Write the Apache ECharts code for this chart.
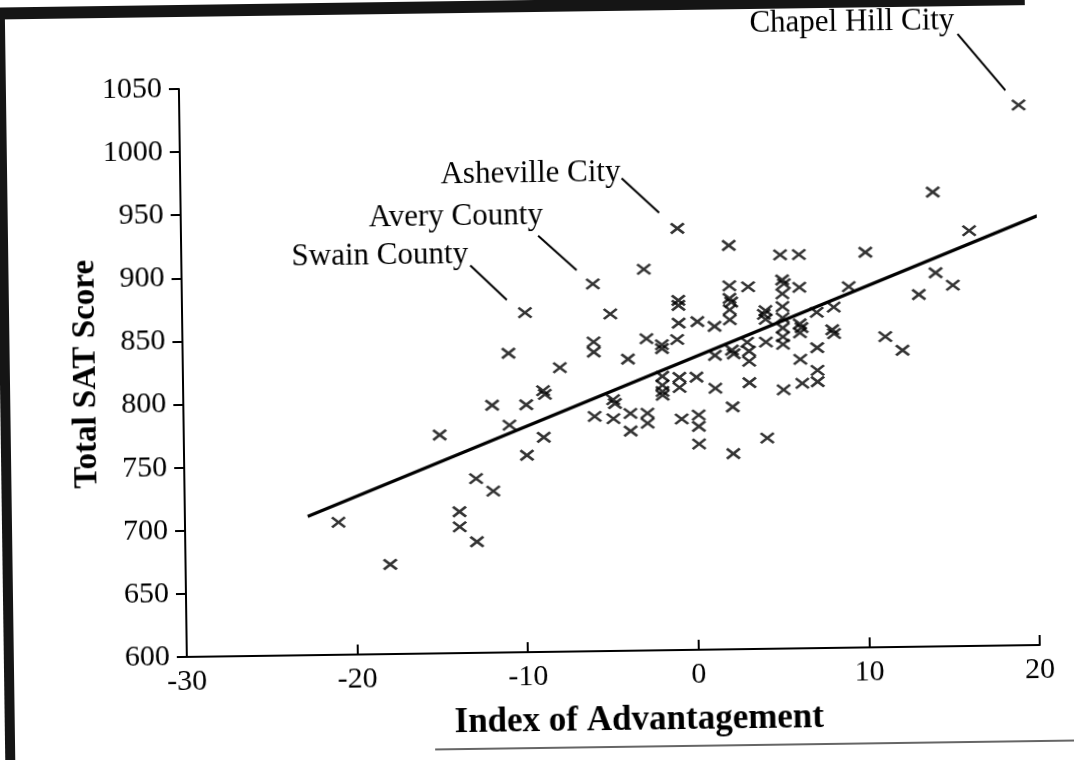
<!DOCTYPE html>
<html>
<head>
<meta charset="utf-8">
<script src="https://cdn.jsdelivr.net/npm/echarts@6/dist/echarts.min.js"></script>
<style>
html, body { margin: 0; padding: 0; background: #fff; overflow: hidden; }
#chart { width: 1074px; height: 760px; transform: rotate(-0.8deg); }
</style>
</head>
<body>
<div id="chart"></div>
<script>
// school districts: index of advantagement vs total SAT score
var advIndex = [
  -21.0, -18.0, -15.0, -13.9, -13.9, -12.9, -12.9, -11.9, -11.9, -10.9, -10.9,
  -9.9, -9.9, -8.9, -8.8, -8.9, -7.9, -5.9, -5.9, -5.9, -4.9, -4.8, -4.7, -4.8,
  -3.9, -3.8, -3.8, -2.9, -2.8, -2.8, -2.8, -1.9, -1.9, -1.9, -1.9, -1.9, -1.9,
  -0.9, -0.9, -0.9, -1.0, -0.9, -0.9, -0.8, 0.2, 0.1, 0.2, 0.2, 0.2, 1.2, 1.2, 1.2,
  2.1, 2.1, 2.1, 2.2, 2.1, 2.1, 2.2, 2.3, 2.2, 2.2, 3.2, 3.1, 3.2, 3.2, 3.2,
  4.2, 4.1, 4.2, 4.2, 4.2, 5.1, 6.2, 5.2, 5.3, 5.2, 5.2, 5.2, 5.2, 5.2, 5.2, 5.2,
  6.2, 6.2, 6.3, 6.2, 6.2, 6.3, 7.2, 7.2, 7.2, 7.2, 8.2, 8.1, 8.2, 9.1, 10.1,
  11.2, 12.2, 13.2, 14.1, 14.2, 15.2, 16.2
];
var satScore = [
  705, 671, 773, 712, 700, 738, 688, 796, 728, 780, 837,
  796, 756, 807, 804, 770, 825, 845, 837, 786, 867, 799, 796, 784,
  831, 788, 774, 902, 847, 788, 780, 842, 839, 817, 810, 805, 802,
  877, 873, 859, 846, 816, 808, 783, 860, 816, 786, 777, 763, 856, 833, 807,
  920, 888, 878, 875, 869, 861, 837, 834, 792, 755, 887, 843, 836, 828, 811,
  868, 865, 861, 843, 767, 912, 912, 892, 889, 881, 871, 862, 854, 847, 841, 805,
  886, 857, 854, 850, 829, 810, 866, 838, 820, 811, 870, 852, 849, 886, 913,
  846, 835, 879, 960, 896, 886, 929
];

var namedDistricts = ['Swain County', 'Avery County', 'Asheville City', 'Chapel Hill City'];
var namedIndex = [-9.9, -5.9, -0.9, 19.2];
var namedScore = [869, 891, 934, 1028];

// fitted line end points
var fitIndex = [-22.8, 20.2];
var fitScore = [710, 940];

var xTicks = [-30, -20, -10, 0, 10, 20];
var yTicks = [600, 650, 700, 750, 800, 850, 900, 950, 1000, 1050];

var serif = '"Liberation Serif", "DejaVu Serif", serif';
var crossMark = 'path://M0,0L12,10M12,0L0,10';

var points = advIndex.map(function (x, i) { return [x, satScore[i]]; });
var named = namedIndex.map(function (x, i) { return [x, namedScore[i]]; });
var fit = fitIndex.map(function (x, i) { return [x, fitScore[i]]; });

var markStyle = { color: 'transparent', borderColor: '#000', borderWidth: 2.6 };

var chart = echarts.init(document.getElementById('chart'));

chart.setOption({
    animation: false,
    backgroundColor: '#fff',
    grid: {
        left: 183,
        right: 38,
        top: 84,
        bottom: 108
    },
    xAxis: {
        type: 'value',
        min: xTicks[0],
        max: xTicks[xTicks.length - 1],
        interval: xTicks[1] - xTicks[0],
        name: 'Index of Advantagement',
        nameLocation: 'middle',
        nameGap: 52,
        nameMoveOverlap: false,
        nameTextStyle: {
            fontFamily: serif,
            fontWeight: 'bold',
            fontSize: 35,
            color: '#000',
            padding: [0, 0, 0, 50]
        },
        splitLine: { show: false },
        axisLine: { onZero: false, lineStyle: { color: '#000', width: 2 } },
        axisTick: { inside: true, length: 10, lineStyle: { color: '#000', width: 2 } },
        axisLabel: {
            margin: 10,
            fontFamily: serif,
            fontSize: 30,
            color: '#000',
            formatter: function (v) { return String(v); }
        }
    },
    yAxis: {
        type: 'value',
        min: yTicks[0],
        max: yTicks[yTicks.length - 1],
        interval: yTicks[1] - yTicks[0],
        name: 'Total SAT Score',
        nameLocation: 'middle',
        nameGap: 80,
        nameMoveOverlap: false,
        nameTextStyle: {
            fontFamily: serif,
            fontWeight: 'bold',
            fontSize: 33,
            color: '#000'
        },
        splitLine: { show: false },
        axisLine: { show: true, onZero: false, lineStyle: { color: '#000', width: 2 } },
        axisTick: { show: true, length: 10, lineStyle: { color: '#000', width: 2 } },
        axisLabel: {
            margin: 17,
            fontFamily: serif,
            fontSize: 30,
            color: '#000',
            formatter: function (v) { return String(v); }
        }
    },
    series: [
        {
            type: 'line',
            data: fit,
            showSymbol: false,
            lineStyle: { color: '#000', width: 3.2 },
            z: 1
        },
        {
            type: 'scatter',
            data: points,
            symbol: crossMark,
            symbolSize: [13, 10],
            itemStyle: markStyle,
            z: 2
        },
        {
            type: 'scatter',
            data: named,
            symbol: crossMark,
            symbolSize: [13, 10],
            itemStyle: markStyle,
            z: 2
        }
    ]
});

// annotation text and leader offsets (pixels from the point)
var noteOffsets = [
    { tx: -56, ty: -59, x1: -54, y1: -48, x2: -18, y2: -13 },
    { tx: -49, ty: -69, x1: -54, y1: -49, x2: -16, y2: -14 },
    { tx: -56, ty: -57, x1: -55, y1: -51, x2: -18, y2: -16 },
    { tx: -63, ty: -85, x1: -60, y1: -72, x2: -13, y2: -15 }
];

var graphics = [
    // scanned page edges
    { type: 'rect', shape: { x: -20, y: -30, width: 30, height: 840 }, style: { fill: '#151515' }, z: 10 },
    { type: 'rect', shape: { x: -20, y: -30, width: 1050, height: 42 }, style: { fill: '#151515' }, z: 10 },
    { type: 'line', shape: { x1: 430, y1: 748, x2: 1090, y2: 748 }, style: { stroke: '#333', lineWidth: 1.5 }, z: 10 }
];

named.forEach(function (pt, i) {
    var p = chart.convertToPixel({ gridIndex: 0 }, pt);
    var o = noteOffsets[i];
    graphics.push({
        type: 'text',
        x: p[0] + o.tx,
        y: p[1] + o.ty,
        style: {
            text: namedDistricts[i],
            align: 'right',
            verticalAlign: 'middle',
            fontFamily: serif,
            fontSize: 31,
            fill: '#000'
        },
        z: 5
    });
    graphics.push({
        type: 'line',
        shape: { x1: p[0] + o.x1, y1: p[1] + o.y1, x2: p[0] + o.x2, y2: p[1] + o.y2 },
        style: { stroke: '#000', lineWidth: 2 },
        z: 5
    });
});

chart.setOption({ graphic: graphics });
</script>
</body>
</html>
